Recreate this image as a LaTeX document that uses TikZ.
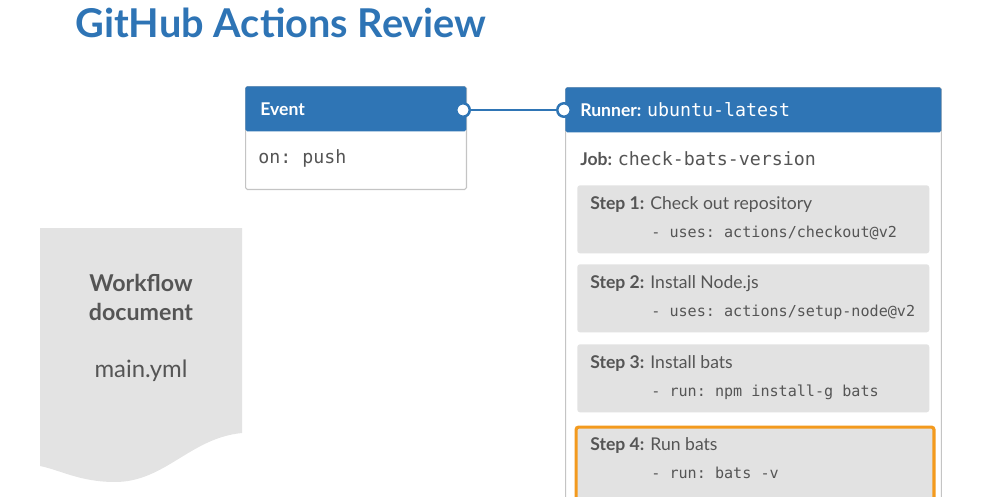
\documentclass[tikz,border=0pt]{standalone}
\usepackage{fontspec}
\setmainfont{Lato}
\setmonofont{DejaVu Sans Mono}
\usepackage{xcolor}
\definecolor{colorHeader}{HTML}{2F75B5}
\definecolor{colorTitle}{HTML}{2E74B5}
\definecolor{colorText}{HTML}{555555}
\definecolor{colorDoc}{HTML}{E3E3E3}
\definecolor{colorStep}{HTML}{E2E2E2}
\definecolor{colorBorder}{HTML}{C4C4C4}
\definecolor{colorActive}{HTML}{F39A1E}
\usetikzlibrary{positioning}
\tikzset{
  card/.style={draw=colorBorder, fill=white, line width=0.6pt, rounded corners=1pt, anchor=north west, inner sep=0pt},
  header/.style={fill=colorHeader, rounded corners=1pt, anchor=north west, minimum height=0.9cm, inner sep=0pt},
  headtext/.style={text=white, anchor=base west, inner sep=0pt, font=\fontsize{10}{12}\selectfont},
  bodytext/.style={text=colorText, anchor=base west, inner sep=0pt, font=\fontsize{10}{12}\selectfont},
  stepbox/.style={fill=colorStep, rounded corners=1.5pt, anchor=north west, inner sep=0pt, minimum width=7.04cm, minimum height=1.36cm},
  steptitle/.style={text=colorText, anchor=base west, inner sep=0pt, font=\fontsize{10}{12}\selectfont},
  stepcmd/.style={text=colorText, anchor=base west, inner sep=0pt, font=\ttfamily\fontsize{8.6}{10}\selectfont},
  port/.style={circle, draw=colorHeader, fill=white, line width=1.4pt, minimum size=0.27cm, inner sep=0pt},
  link/.style={draw=colorHeader, line width=1.2pt},
  doctext/.style={text=colorText, align=center, anchor=base, inner sep=0pt}
}

\begin{document}
\begin{tikzpicture}[x=0.02cm, y=-0.02cm]
\useasboundingbox (0,0) rectangle (992,497);
\clip (0,0) rectangle (992,497);
\node[anchor=base west, inner sep=0pt, text=colorTitle, font=\bfseries\fontsize{22.6}{26}\selectfont] (title) at (75,37) {GitHub Actions Review};

% workflow document
\fill[colorDoc] (40,228) -- (242,228) -- (242,433) .. controls (190,438) and (165,482) .. (115,482) .. controls (80,482) and (60,470) .. (40,466) -- cycle;
\node[doctext, font=\bfseries\fontsize{13.2}{15}\selectfont] (docname) at (141,291) {Workflow};
\node[doctext, font=\bfseries\fontsize{13.2}{15}\selectfont] (doctype) at (141,320) {document};
\node[doctext, font=\fontsize{13.6}{15}\selectfont] (docfile) at (141,377) {main.yml};

% event
\node[card, minimum width=4.42cm, minimum height=2.06cm] (event) at (245,86) {};
\node[header, minimum width=4.42cm] (eventhead) at (event.north west) {};
\node[headtext] (eventlabel) at (260,115) {\bfseries Event};
\node[bodytext] (eventon) at (258,163) {\ttfamily\fontsize{10.4}{12}\selectfont on: push};

% runner
\node[card, minimum width=7.52cm, minimum height=10cm] (runner) at (565,87) {};
\node[header, minimum width=7.52cm] (runnerhead) at (runner.north west) {};
\node[headtext] (runnerlabel) at (580,116) {\bfseries Runner: \ttfamily\mdseries\fontsize{10.4}{12}\selectfont ubuntu-latest};
\node[bodytext] (job) at (580,165) {\bfseries Job: \ttfamily\mdseries\fontsize{10.4}{12}\selectfont check-bats-version};

\node[port] (eventport) at (463,110) {};
\node[port] (runnerport) at (564,110) {};
\draw[link] (eventport) -- (runnerport);

% steps
\node[stepbox] (step1) at (577,185) {};
\node[steptitle] (step1title) at ([shift={(13,24)}]step1.north west) {\textbf{Step 1:} Check out repository};
\node[stepcmd] (step1cmd) at ([shift={(74,52)}]step1.north west) {- uses: actions/checkout@v2};

\node[stepbox] (step2) at (577,264) {};
\node[steptitle] (step2title) at ([shift={(13,24)}]step2.north west) {\textbf{Step 2:} Install Node.js};
\node[stepcmd] (step2cmd) at ([shift={(74,52)}]step2.north west) {- uses: actions/setup-node@v2};

\node[stepbox] (step3) at (577,344) {};
\node[steptitle] (step3title) at ([shift={(13,24)}]step3.north west) {\textbf{Step 3:} Install bats};
\node[stepcmd] (step3cmd) at ([shift={(74,52)}]step3.north west) {- run: npm install-g bats};

\node[stepbox, draw=colorActive, line width=1.8pt, minimum width=7.16cm, minimum height=2cm] (step4) at (574.5,425.5) {};
\node[steptitle] (step4title) at (590,450) {\textbf{Step 4:} Run bats};
\node[stepcmd] (step4cmd) at (651,478) {- run: bats -v};
\end{tikzpicture}
\end{document}
